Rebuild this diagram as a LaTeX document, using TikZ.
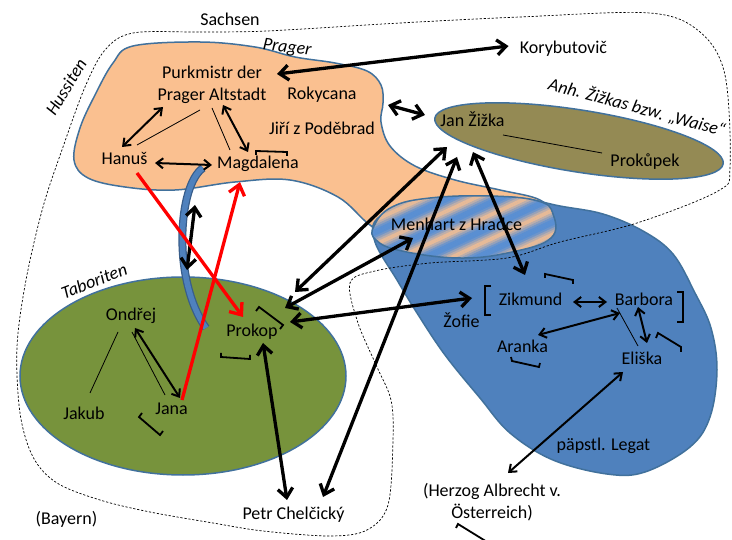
\documentclass[tikz,border=0pt]{standalone}
\usepackage{fontspec}
\setmainfont{Carlito}
\usetikzlibrary{arrows.meta,calc}

\definecolor{peach}{HTML}{FAC090}
\definecolor{edgeblue}{HTML}{41719C}
\definecolor{regblue}{HTML}{4F81BD}
\definecolor{taborgreen}{HTML}{77933C}
\definecolor{waiseolive}{HTML}{948A54}
\definecolor{mblue}{HTML}{5A8FD2}
\definecolor{bandblue}{HTML}{4F81BD}
\definecolor{bandedge}{HTML}{385D8A}

\begin{document}
\begin{tikzpicture}[x=1pt,y=-1pt,
  lbl/.style={inner sep=0pt, anchor=base, font=\fontsize{18}{22}\selectfont},
  grp/.style={inner sep=0pt, font=\fontsize{18}{22}\selectfont\itshape},
  region/.style={draw=edgeblue, line width=1.5pt},
  thinline/.style={line width=0.8pt},
  bigarr/.style={line width=3.3pt, >={Straight Barb[length=9pt,width=15pt]}, <->},
  medarr/.style={line width=2pt, >={Straight Barb[length=6.5pt,width=10pt]}, <->},
  redarr/.style={line width=3.3pt, draw=red, >={Straight Barb[length=10pt,width=16pt]}, ->},
  brk/.style={line width=1.8pt},
  border/.style={line width=0.7pt, dash pattern=on 2.2pt off 1.8pt}
]
\useasboundingbox (0,0) rectangle (732,540);
\fill[white] (0,0) rectangle (732,540);

% Prager region
\path[region, fill=peach] plot[smooth cycle, tension=0.6] coordinates {
  (133,46) (200,42) (255,47) (295,57) (335,63) (367,71) (381,85) (383,103)
  (381,122) (390,146) (415,166) (455,180) (500,190) (540,200) (552,218)
  (520,238) (400,240) (370,225) (338,197) (290,180) (235,182) (175,190)
  (125,187) (88,178) (74,160) (80,128) (95,95) (113,63)};

% Royal / Catholic side
\path[region, fill=regblue] plot[smooth cycle, tension=0.6] coordinates {
  (378,218) (420,202) (470,197) (520,198) (560,206) (603,214) (643,231)
  (673,254) (695,293) (711,328) (717,370) (710,417) (690,447) (645,472)
  (607,474) (553,460) (510,433) (480,398) (445,355) (417,313) (397,280)
  (375,242)};

% Menhart: striped area
\begin{scope}
  \clip plot[smooth cycle, tension=0.7] coordinates {
    (374,226) (392,207) (430,198) (490,196) (538,201) (553,214) (551,238)
    (512,252) (460,258) (402,251) (376,240)};
  \foreach \i in {0,...,74}{
    \pgfmathsetmacro{\d}{2*\i-74}
    \pgfmathsetmacro{\pct}{min(100,abs(mod(\i,11)-5.5)/4*100)}
    \pgfmathsetmacro{\ax}{456+\d*0.423-150}
    \pgfmathsetmacro{\ay}{228+\d*0.906+70}
    \pgfmathsetmacro{\bx}{456+\d*0.423+150}
    \pgfmathsetmacro{\by}{228+\d*0.906-70}
    \draw[line width=2.4pt, color=mblue!\pct!peach] (\ax,\ay) -- (\bx,\by);
  }
\end{scope}
\draw[region] plot[smooth cycle, tension=0.7] coordinates {
  (374,226) (392,207) (430,198) (490,196) (538,201) (553,214) (551,238)
  (512,252) (460,258) (402,251) (376,240)};

% Waise (Zizka's followers)
\path[region, fill=waiseolive, rotate around={-9:(579,141)}]
  (579,141) ellipse [x radius=146pt, y radius=31pt];

% Taboriten
\path[region, fill=taborgreen] (183,376) ellipse [x radius=163pt, y radius=99pt];

% Hussite boundary
\draw[border] plot[smooth cycle, tension=0.55] coordinates {
  (133,33) (200,32) (267,31) (400,23) (520,17) (650,13) (700,32) (725,75)
  (730,167) (718,191) (637,223) (560,242) (507,258) (430,263) (375,271)
  (350,283) (358,323) (377,367) (391,400) (393,440) (388,505) (367,530)
  (330,536) (263,531) (213,523) (150,512) (100,500) (57,483) (33,457)
  (20,413) (17,347) (26,280) (43,207) (63,147) (85,87) (105,50)};

% group labels
\node[lbl] (sachsen) at (230,26) {Sachsen};
\node[grp, rotate=-7] (prager) at (287,48) {Prager};
\node[grp, rotate=58.6] (hussiten) at (66,87) {Hussiten};
\node[grp, rotate=21] (taboriten) at (94,281) {Taboriten};
\node[grp, rotate=-15] (waise) at (637,107) {Anh. Žižkas bzw. „Waise“};
\node[lbl] (bayern) at (66.5,525) {(Bayern)};

% persons
\node[lbl, anchor=center, align=center] (purk) at (212,84.5) {Purkmistr der\\Prager Altstadt};
\node[lbl] (roky) at (322,100) {Rokycana};
\node[lbl] (jiri) at (322,135) {Jiří z Poděbrad};
\node[lbl] (hanus) at (124.5,165) {Hanuš};
\node[lbl] (magda) at (258,169) {Magdalena};
\node[lbl] (kory) at (563.5,54) {Korybutovič};
\node[lbl] (zizka) at (472.5,127) {Jan Žižka};
\node[lbl] (prokupek) at (645,167) {Prokůpek};
\node[lbl] (menhart) at (456.5,231) {Menhart z Hradce};
\node[lbl] (zikmund) at (530.5,306) {Zikmund};
\node[lbl] (barbora) at (644,306) {Barbora};
\node[lbl] (zofie) at (461.5,328) {Žofie};
\node[lbl] (aranka) at (522.5,353) {Aranka};
\node[lbl] (eliska) at (642,365) {Eliška};
\node[lbl] (legat) at (603.5,450) {päpstl. Legat};
\node[lbl, anchor=center, align=center] (herzog) at (492,502) {(Herzog Albrecht v.\\Österreich)};
\node[lbl] (petr) at (293.5,519) {Petr Chelčický};
\node[lbl] (ondrej) at (131,321) {Ondřej};
\node[lbl] (prokop) at (252,337) {Prokop};
\node[lbl] (jakub) at (84,420) {Jakub};
\node[lbl] (jana) at (171.5,415) {Jana};

\coordinate (pragE) at (388,105);
\coordinate (pragS) at (195,205);
\coordinate (taborN) at (187,270);

% curved band from Magdalena down to the Taboriten
\draw[bandedge, line width=8pt] (203,168) .. controls (178,185) and (172,280) .. (206,328);
\draw[bandblue, line width=5.5pt] (203,168) .. controls (178,185) and (172,280) .. (206,328);

% thin relations
\draw[thinline] ([shift={(-12,25.5)}]purk.center) -- ([shift={(12.5,-20)}]hanus.base);
\draw[thinline] ([shift={(0,23.5)}]purk.center) -- ([shift={(-28,-19)}]magda.base);
\draw[thinline] ([shift={(1,11)}]ondrej.base) -- ([shift={(-6.5,-20)}]jana.base);
\draw[thinline] ([shift={(-13,11)}]ondrej.base) -- ([shift={(6,-27)}]jakub.base);
\draw[thinline] ([shift={(30.5,8)}]zizka.base) -- ([shift={(-43,-14)}]prokupek.base);
\draw[thinline] ([shift={(-27,2)}]barbora.base) -- ([shift={(-4,-19)}]eliska.base);

% medium arrows
\draw[medarr] ([shift={(-49,22.5)}]purk.center) -- ([shift={(-2.5,-18)}]hanus.base);
\draw[medarr] ([shift={(11,20.5)}]purk.center) -- ([shift={(-10,-17)}]magda.base);
\draw[medarr] ([shift={(30.5,-2)}]hanus.base) -- ([shift={(-46,-4)}]magda.base);
\draw[medarr] ([shift={(4,7)}]ondrej.base) -- ([shift={(8.5,-17)}]jana.base);
\draw[medarr] ([shift={(42.5,-4)}]zikmund.base) -- ([shift={(-37,-4)}]barbora.base);
\draw[medarr] ([shift={(-24,7)}]barbora.base) -- ([shift={(15.5,-18)}]aranka.base);
\draw[medarr] ([shift={(-6,1)}]barbora.base) -- ([shift={(5,-22)}]eliska.base);
\draw[medarr] ([shift={(-19,7)}]eliska.base) -- ([shift={(16,-29)}]herzog.center);

% thick arrows
\draw[bigarr] ([shift={(-55,-8)}]kory.base) -- ([shift={(65,-10.5)}]purk.center);
\draw[bigarr] (pragE) -- ([shift={(-47.5,-12)}]zizka.base);
\draw[bigarr] (pragS) -- (taborN);
\draw[bigarr] ([shift={(11,6)}]prokop.base) -- ([shift={(-6.5,-19)}]petr.base);
\draw[bigarr] ([shift={(-15.5,30)}]zizka.base) -- ([shift={(29.5,-22)}]petr.base);
\draw[bigarr] ([shift={(-25.5,20)}]zizka.base) -- ([shift={(43,-45)}]prokop.base);
\draw[bigarr] ([shift={(-43.5,7)}]menhart.base) -- ([shift={(33,-29)}]prokop.base);
\draw[bigarr] ([shift={(10.5,-30)}]zofie.base) -- ([shift={(38,-15)}]prokop.base);
\draw[bigarr] ([shift={(0.5,25)}]zizka.base) -- ([shift={(-5.5,-31)}]zikmund.base);

% red arrows
\draw[redarr] ([shift={(12.5,8)}]hanus.base) -- ([shift={(-9,-20)}]prokop.base);
\draw[redarr] ([shift={(10.5,-15)}]jana.base) -- ([shift={(-18,13)}]magda.base);

% brackets
\draw[brk] (256,155) -- (256,151) -- (287,152) -- (287,156);
\draw[brk] (256,311) -- (259,307) -- (283,325) -- (280,329);
\draw[brk] (221,353) -- (221,357) -- (250,359) -- (250,355);
\draw[brk] (142,413) -- (139,417) -- (160,435) -- (163,431);
\draw[brk] (545,278) -- (545,274) -- (573,280) -- (573,284);
\draw[line width=2.3pt] (491,286) -- (485,286) -- (485,315) -- (491,315);
\draw[line width=2.3pt] (677,292) -- (683,292) -- (683,322) -- (677,322);
\draw[brk] (656,338) -- (658,333) -- (681,347) -- (681,352);
\draw[brk] (511,357) -- (512,361) -- (539,367) -- (540,363);
\draw[brk] (456,528) -- (458,524) -- (492,545);
\end{tikzpicture}
\end{document}
